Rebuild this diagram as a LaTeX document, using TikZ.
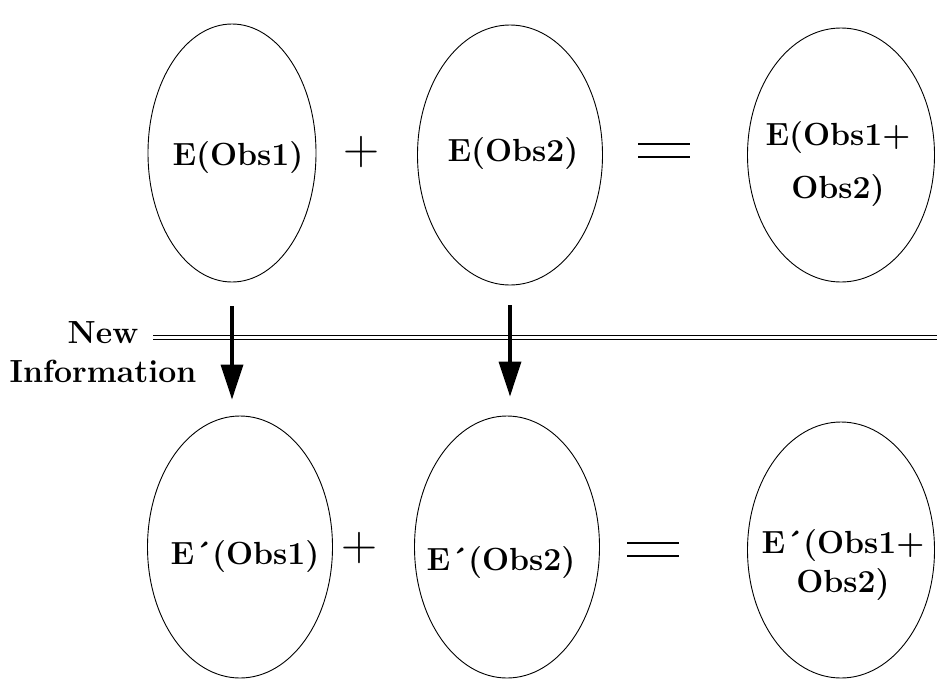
\documentclass[tikz,border=0pt]{standalone}
\usepackage{tikz}
\usetikzlibrary{arrows.meta,shapes.geometric}

\begin{document}
\begin{tikzpicture}[x=1pt,y=-1pt,>={Triangle[length=35pt,width=22pt]},
  oval/.style={draw,ellipse,line width=.9pt,minimum width=185pt,minimum height=260pt,inner sep=0pt},
  lbl/.style={font=\fontsize{32}{39}\selectfont\bfseries,align=center,inner sep=0pt},
  plus/.style={font=\fontsize{50}{50}\selectfont\mdseries,inner sep=0pt},
  newinfo/.style={->,line width=3.5pt}]
  \useasboundingbox (0,0) rectangle (937,683);
  % before
  \node[oval,minimum width=168pt,minimum height=258pt] (o1) at (232,153) {};
  \node[oval] (o2) at (510,155) {};
  \node[oval,minimum width=187pt,minimum height=254pt] (o3) at (841,155) {};
  \node[lbl,anchor=base] (t1) at (238,165) {E(Obs1)};
  \node[lbl,anchor=base] (t2) at (513,161) {E(Obs2)};
  \node[lbl] (t3) at (838,164) {E(Obs1+\\[14pt]Obs2)};
  \node[plus] (p1) at (361,152) {+};
  \node[inner sep=0pt] (q1) at (664,150.5)
    {\vbox{\hrule width 52pt height 1.8pt\vskip 11pt\hrule width 52pt height 1.5pt}};
  % after
  \node[oval,minimum height=262pt] (o4) at (240,547) {};
  \node[oval,minimum height=262pt] (o5) at (507,547) {};
  \node[oval,minimum width=187pt,minimum height=256pt] (o6) at (841,550) {};
  \node[lbl,anchor=base] (t4) at (245,564) {E\textasciiacute(Obs1)};
  \node[lbl,anchor=base] (t5) at (501,570) {E\textasciiacute(Obs2)};
  \node[lbl] (t6) at (843,565) {E\textasciiacute(Obs1+\\Obs2)};
  \node[plus] (p2) at (359,548) {+};
  \node[inner sep=0pt] (q2) at (653,549.5)
    {\vbox{\hrule width 52pt height 1.8pt\vskip 11pt\hrule width 52pt height 1.5pt}};
  % new information
  \node[lbl] (info) at (103,352) {New\\Information};
  \coordinate (rule w) at (153,337.5);
  \coordinate (rule e) at (937,337.5);
  \draw[double,double distance=3.5pt,line width=1.2pt] (rule w) -- (rule e);
  \draw[newinfo,shorten <=24pt,shorten >=16pt] (o1.south) -- (o1.south |- o4.north);
  \draw[newinfo,shorten <=20pt,shorten >=19pt] (o2.south) -- (o2.south |- o5.north);
\end{tikzpicture}
\end{document}
